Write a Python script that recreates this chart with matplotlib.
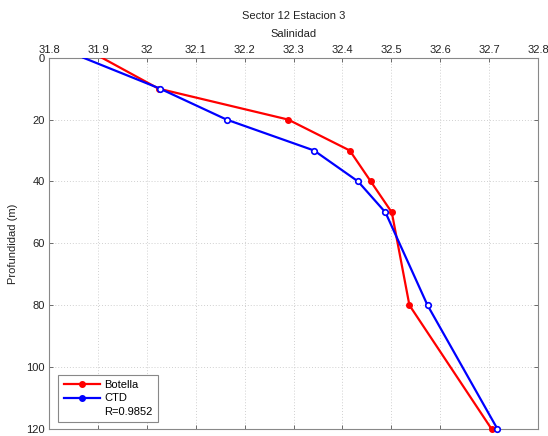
import numpy as np
import matplotlib
matplotlib.use('Agg')
import matplotlib.pyplot as plt
from matplotlib.lines import Line2D

plt.rcParams['font.family'] = ['Liberation Sans', 'DejaVu Sans']
plt.rcParams['font.size'] = 8

# data
depth_botella = [0, 10, 20, 30, 40, 50, 80, 120]
sal_botella = [31.908, 32.024, 32.289, 32.415, 32.458, 32.501, 32.537, 32.705]
depth_ctd = [0, 10, 20, 30, 40, 50, 80, 120]
sal_ctd = [31.870, 32.027, 32.163, 32.342, 32.432, 32.488, 32.574, 32.717]
r_text = 'R=0.9852'

fig = plt.figure(figsize=(5.48, 4.36), dpi=100)
ax = fig.add_axes([0.0894, 0.0161, 0.8924, 0.8516])

# botella: filled markers, ctd: open markers (no marker drawn at the surface)
ax.plot(sal_botella, depth_botella, '-', color='red', lw=1.6, zorder=3)
ax.plot(sal_ctd, depth_ctd, '-', color='blue', lw=1.6, zorder=4)
ax.plot(sal_botella[1:], depth_botella[1:], 'o', ms=4, mfc='red', mec='red',
        mew=1.0, clip_on=False, zorder=3)
ax.plot(sal_ctd[1:], depth_ctd[1:], 'o', ms=4, mfc='white', mec='blue',
        mew=1.2, clip_on=False, zorder=4)

ax.set_xlim(31.8, 32.8)
ax.set_ylim(120, 0)
ax.set_xticks(np.round(np.arange(31.8, 32.81, 0.1), 1))
ax.set_xticklabels(['31.8', '31.9', '32', '32.1', '32.2', '32.3', '32.4',
                    '32.5', '32.6', '32.7', '32.8'])
ax.set_yticks(np.arange(0, 121, 20))

ax.xaxis.tick_top()
ax.xaxis.set_label_position('top')
ax.tick_params(axis='both', which='both', direction='in', top=True,
               bottom=True, left=True, right=True, length=3, width=0.6,
               color='#555555', labelcolor='#222222', pad=2)
ax.tick_params(axis='y', pad=3)
for sp in ax.spines.values():
    sp.set_color('#888888')
    sp.set_linewidth(0.8)

ax.grid(True, linestyle=(0, (1, 2)), color='#d0d0d0', linewidth=0.7)
ax.set_axisbelow(True)

ax.set_xlabel('Salinidad', labelpad=6, color='#222222')
ax.set_ylabel('Profundidad (m)', labelpad=6, color='#222222')
ax.set_title('Sector 12 Estacion 3', pad=28, fontsize=8, color='#222222')

# legend with botella, ctd and correlation text
handles = [
    Line2D([], [], color='red', lw=1.6, marker='o', ms=4, mfc='red', mec='red'),
    Line2D([], [], color='blue', lw=1.6, marker='o', ms=4, mfc='blue', mec='blue'),
    Line2D([], [], color='none'),
]
leg = ax.legend(handles, ['Botella', 'CTD', r_text], loc='lower left',
                bbox_to_anchor=(0.008, 0.003), fancybox=False, framealpha=1,
                edgecolor='#888888', handlelength=3.2, handletextpad=0.4,
                borderpad=0.5, labelspacing=0.3, fontsize=8)
leg.get_frame().set_linewidth(0.8)

fig.savefig('out.png', dpi=100)
